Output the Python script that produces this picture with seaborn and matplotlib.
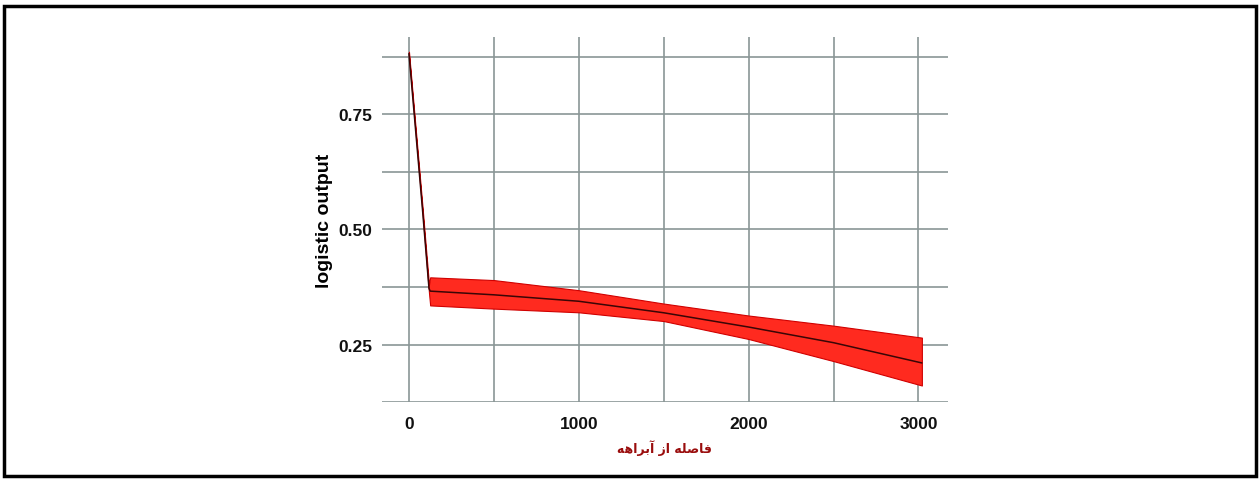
import matplotlib
matplotlib.use("Agg")
import matplotlib.pyplot as plt
import seaborn as sns
import pandas as pd
from matplotlib.patches import Rectangle
from matplotlib.ticker import MultipleLocator

# === Dati ===
distanza = [0, 40, 80, 118, 125, 500, 1000, 1500, 2000, 2500, 3020]
output_medio = [0.882, 0.712, 0.542, 0.372, 0.366, 0.358, 0.344, 0.319, 0.288, 0.254, 0.210]
banda_sup = [0.886, 0.717, 0.548, 0.380, 0.396, 0.390, 0.368, 0.339, 0.313, 0.291, 0.265]
banda_inf = [0.878, 0.707, 0.536, 0.362, 0.335, 0.328, 0.320, 0.301, 0.262, 0.214, 0.161]

y_ticks = [0.25, 0.50, 0.75]
x_ticks = [0, 1000, 2000, 3000]

# etichetta asse x: "فاصله از آبراهه" in forme di presentazione, ordine visivo
etichetta_x = "\uFEEA\uFEEB\uFE8D\uFEAE\uFE91\uFE81 \uFEAF\uFE8D \uFEEA\uFEE0\uFEBB\uFE8E\uFED3"
etichetta_y = "logistic output"

df = pd.DataFrame({"distanza": distanza, "output": output_medio,
                   "sup": banda_sup, "inf": banda_inf})

sns.set_style("white")
plt.rcParams["font.family"] = ["Liberation Sans", "DejaVu Sans"]

fig = plt.figure(figsize=(12.6, 4.81), dpi=100)
ax = fig.add_axes([0.303, 0.162, 0.449, 0.759])

ax.fill_between(df["distanza"], df["inf"], df["sup"], color="#ff2a1f",
                edgecolor="#d00000", linewidth=0.8, zorder=3)
sns.lineplot(data=df, x="distanza", y="output", ax=ax, color="#3a0606",
             linewidth=1.1, zorder=4)

ax.set_xlim(-160, 3171)
ax.set_ylim(0.125, 0.918)
ax.set_xticks(x_ticks)
ax.set_yticks(y_ticks)
ax.xaxis.set_minor_locator(MultipleLocator(500))
ax.yaxis.set_minor_locator(MultipleLocator(0.125))
ax.set_xticklabels([str(v) for v in x_ticks])
ax.set_yticklabels([f"{v:.2f}" for v in y_ticks])
ax.grid(True, which="both", color="#8a9696", linewidth=1.2, zorder=1)
ax.set_axisbelow(True)
for s in ax.spines.values():
    s.set_visible(False)
ax.tick_params(axis="x", which="both", length=0, labelsize=12.5,
               labelcolor="#111111", pad=10)
ax.tick_params(axis="y", which="both", length=0, labelsize=12.5,
               labelcolor="#111111", pad=7)
for lab in ax.get_xticklabels() + ax.get_yticklabels():
    lab.set_fontweight("bold")

ax.set_xlabel(etichetta_x, fontsize=9, fontweight="bold", color="#9a0d0d",
              family=["DejaVu Sans"], labelpad=6)
ax.set_ylabel(etichetta_y, fontsize=14, fontweight="bold", color="black",
              family=["Liberation Sans Narrow", "Liberation Sans", "DejaVu Sans"],
              labelpad=4)

# cornice esterna
fig.patches.append(Rectangle((0.003, 0.008), 0.994, 0.978, transform=fig.transFigure,
                             fill=False, edgecolor="black", linewidth=2.5))

fig.savefig("out.png", dpi=100)
